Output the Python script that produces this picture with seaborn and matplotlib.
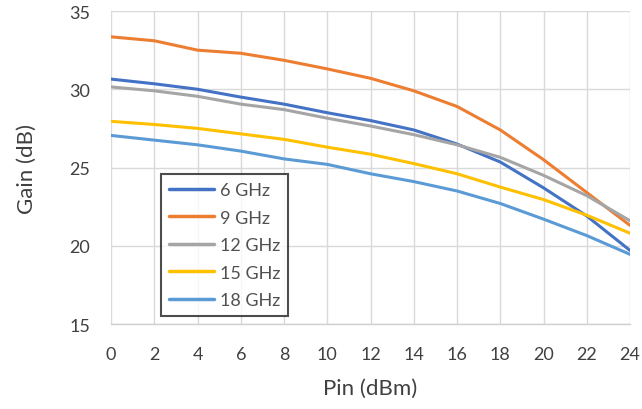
import matplotlib
matplotlib.use("Agg")
import matplotlib.pyplot as plt
import seaborn as sns
import pandas as pd

# Input power sweep (dBm)
pin_dbm = [0, 2, 4, 6, 8, 10, 12, 14, 16, 18, 20, 22, 24]

# Gain (dB) per frequency
gain_6ghz = [30.65, 30.35, 30.0, 29.5, 29.05, 28.5, 28.0, 27.4, 26.5, 25.35, 23.7, 21.9, 19.7]
gain_9ghz = [33.35, 33.1, 32.5, 32.3, 31.85, 31.3, 30.7, 29.9, 28.9, 27.4, 25.5, 23.4, 21.3]
gain_12ghz = [30.15, 29.9, 29.55, 29.05, 28.7, 28.15, 27.65, 27.1, 26.45, 25.65, 24.5, 23.2, 21.6]
gain_15ghz = [27.95, 27.75, 27.5, 27.15, 26.8, 26.3, 25.85, 25.25, 24.6, 23.75, 22.95, 21.95, 20.8]
gain_18ghz = [27.05, 26.75, 26.45, 26.05, 25.55, 25.2, 24.6, 24.1, 23.5, 22.7, 21.7, 20.65, 19.45]

series_names = ["6 GHz", "9 GHz", "12 GHz", "15 GHz", "18 GHz"]
series_values = [gain_6ghz, gain_9ghz, gain_12ghz, gain_15ghz, gain_18ghz]
colors = ["#4472C4", "#ED7D31", "#A5A5A5", "#FFC000", "#5B9BD5"]

df = pd.DataFrame(
    [(p, g, name) for name, vals in zip(series_names, series_values)
     for p, g in zip(pin_dbm, vals)],
    columns=["Pin", "Gain", "Freq"],
)

sns.set_theme(style="white")
plt.rcParams["font.family"] = ["Lato", "DejaVu Sans"]

fig = plt.figure(figsize=(6.42, 4.10), dpi=100)
ax = fig.add_axes([0.1729, 0.2073, 0.8085, 0.7634])

sns.lineplot(data=df, x="Pin", y="Gain", hue="Freq", hue_order=series_names,
             palette=colors, linewidth=2.2, ax=ax, legend=True)

ax.set_xlim(0, 24)
ax.set_ylim(15, 35)
ax.set_xticks(pin_dbm)
ax.set_yticks([15, 20, 25, 30, 35])
ax.grid(True, color="#D9D9D9", linewidth=1.0)
ax.set_axisbelow(True)
for side in ["top", "right", "left"]:
    ax.spines[side].set_visible(False)
ax.spines["bottom"].set_color("#D0D0D0")
ax.spines["bottom"].set_linewidth(1.0)

ax.tick_params(axis="y", length=0, pad=15, labelsize=13, labelcolor="#404040")
ax.tick_params(axis="x", length=0, pad=16, labelsize=13, labelcolor="#404040")
ax.set_xlabel("Pin (dBm)", fontsize=16, color="#404040", labelpad=11)
ax.set_ylabel("Gain (dB)", fontsize=16, color="#404040", labelpad=23)

leg = ax.legend(loc="lower left", bbox_to_anchor=(0.096, 0.024), borderaxespad=0,
                frameon=True, fancybox=False, fontsize=13, handlelength=2.5,
                handletextpad=0.3, labelspacing=0.64, borderpad=0.45)
leg.get_frame().set_edgecolor("#202020")
leg.get_frame().set_linewidth(1.5)
for t in leg.get_texts():
    t.set_color("#505050")
for line in leg.get_lines():
    line.set_linewidth(2.5)

fig.savefig("out.png", dpi=100, facecolor="white")
